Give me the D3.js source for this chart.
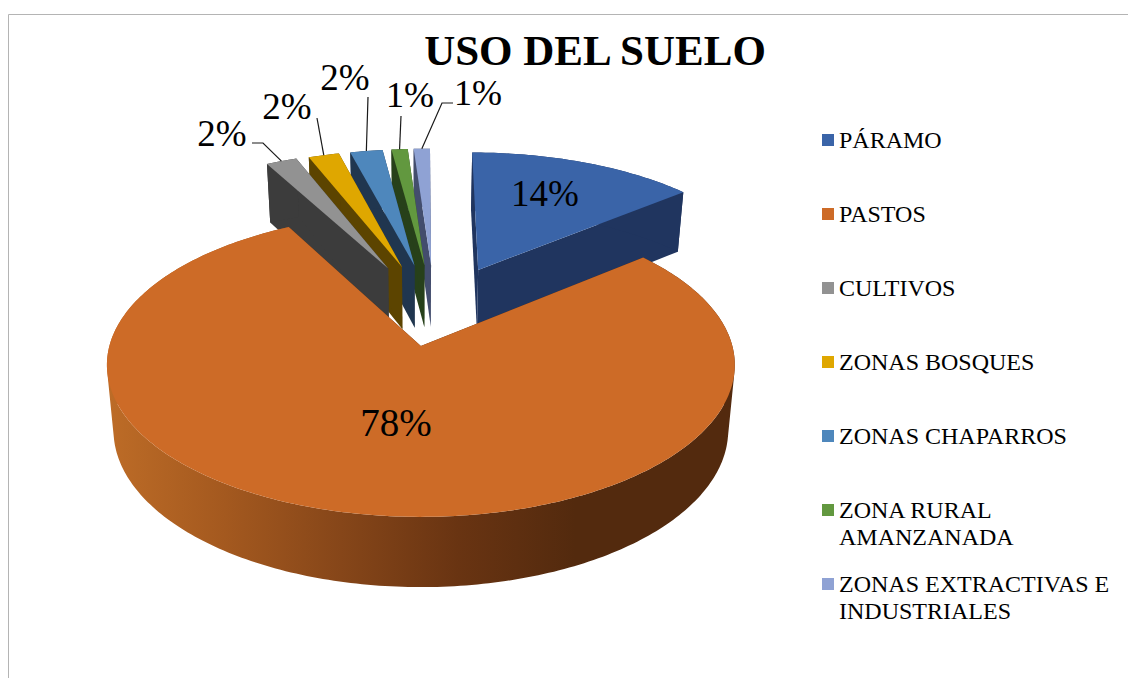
<!DOCTYPE html>
<html>
<head>
<meta charset="utf-8">
<script src="https://cdn.jsdelivr.net/npm/d3@7"></script>
<style>
html,body{margin:0;padding:0;background:#fff;}
svg{display:block;}
text{font-family:"Liberation Serif","Times New Roman",serif;fill:#000;}
</style>
</head>
<body>
<svg id="chart" width="1128" height="678"></svg>
<script>
// ---- data ----
const categories = ["PÁRAMO","PASTOS","CULTIVOS","ZONAS BOSQUES","ZONAS CHAPARROS","ZONA RURAL AMANZANADA","ZONAS EXTRACTIVAS E INDUSTRIALES"];
const values = [14.0, 78.2, 1.9, 1.9, 2.0, 1.0, 1.0];
const title = "USO DEL SUELO";

// ---- styles ----
const topColors  = ["#3a64a8","#cd6b27","#929292","#dfa700","#4e87bc","#62983f","#8fa2d4"];
const wallColors = ["#20355f","url(#orangeWall)","#3c3c3c","#5c4400","#20364f","#27401a","#434d6d"];
const explodeX = [0.352,0.24,0.38,0.364,0.364,0.364,0.364];
const explodeY = [0.285,0.29,0.295,0.295,0.295,0.295,0.295];
const drawOrder = [0,6,5,4,3,2,1];
const legendLines = [["PÁRAMO"],["PASTOS"],["CULTIVOS"],["ZONAS BOSQUES"],["ZONAS CHAPARROS"],["ZONA RURAL","AMANZANADA"],["ZONAS EXTRACTIVAS E","INDUSTRIALES"]];
const labelAnchors = [[545,206],[396,436],[222,146],[287,119],[345,90],[410,107],[478,105]];
const labelSizes = [37,39,37,37,37,36,36];
const leaderElbows = [null,null,[[252,143],[263,143]],[[317,118]],[[368,97]],[[401,116]],[[453,103],[442,103]]];

// ---- perspective projection of the pie's plane ----
const cx = 421, cy = 346, A = 311.5, B = 149.6, K = 0.125, D = 64.6, S = 0.979;
const O = [0.046, 0.285];
function project(X, Y, low) {
  const w = 1 + K * Y, s = low ? S : 1;
  return [cx + A * X / w * s, cy - B * Y / w * s + (low ? D / w : 0)];
}

const svg = d3.select("#chart");
const defs = svg.append("defs");
const grad = defs.append("linearGradient").attr("id","orangeWall")
  .attr("gradientUnits","userSpaceOnUse").attr("x1",107).attr("x2",575).attr("y1",0).attr("y2",0);
[[0,"#bd6c27"],[0.25,"#a4591f"],[0.5,"#864619"],[0.75,"#693412"],[1,"#532a0e"]].forEach(d =>
  grad.append("stop").attr("offset",d[0]).attr("stop-color",d[1]));

// frame
svg.append("path").attr("d","M8.5 678V14.5H1128").attr("fill","none").attr("stroke","#b4b4b4").attr("stroke-width",1);

const arcs = d3.pie().sort(null).value(d => d)(values);
const line = d3.line();

function geometry(a, i) {
  const mid = (a.startAngle + a.endAngle) / 2;
  const ox = O[0] + explodeX[i] * Math.sin(mid), oy = O[1] + explodeY[i] * Math.cos(mid);
  const n = Math.max(4, Math.ceil((a.endAngle - a.startAngle) * 60));
  const th = d3.range(n + 1).map(k => a.startAngle + (a.endAngle - a.startAngle) * k / n);
  const rim = low => th.map(t => project(ox + Math.sin(t), oy + Math.cos(t), low));
  return {apex: low => project(ox, oy, low), rim, mid, ox, oy};
}

const geoms = arcs.map(geometry);

drawOrder.forEach(i => {
  const g = geoms[i], top = g.rim(false), low = g.rim(true);
  const at = g.apex(false), al = g.apex(true);
  const wallFill = i === 1 ? "#532a0e" : wallColors[i];
  // radial walls
  [[top[0], low[0]], [top[top.length-1], low[low.length-1]]].forEach(e => {
    svg.append("path").attr("d", line([at, e[0], e[1], al]) + "Z").attr("fill", wallFill);
  });
  // outer curved wall: every small quad wound the same way so the whole sweep is filled
  const quads = d3.range(top.length - 1).map(k => {
    const q = [top[k], top[k+1], low[k+1], low[k]];
    return line(d3.polygonArea(q) < 0 ? q.reverse() : q) + "Z";
  }).join("");
  svg.append("path").attr("d", quads).attr("fill", wallColors[i]);
  // top face
  svg.append("path").attr("d", line([at].concat(top)) + "Z").attr("fill", topColors[i]);
});

// title
svg.append("text").attr("x",595).attr("y",64.5).attr("text-anchor","middle")
  .attr("font-size",43).attr("font-weight","bold").text(title);

// leaders
geoms.forEach((g, i) => {
  if (!leaderElbows[i]) return;
  const a = arcs[i], m = (a.startAngle + a.endAngle) / 2;
  const end = project(g.ox + Math.sin(m), g.oy + Math.cos(m), false);
  svg.append("path").attr("d", line(leaderElbows[i].concat([end])))
    .attr("fill","none").attr("stroke","#1a1a1a").attr("stroke-width",1.2);
});

// percentage labels
values.forEach((v, i) => {
  svg.append("text").attr("x",labelAnchors[i][0]).attr("y",labelAnchors[i][1])
    .attr("text-anchor","middle").attr("font-size",labelSizes[i]).text(Math.round(v) + "%");
});

// legend
const legendY = d3.scalePoint().domain(categories).range([140,584]);
categories.forEach((c, i) => {
  const y = legendY(c);
  svg.append("rect").attr("x",822).attr("y",y-6).attr("width",12).attr("height",12).attr("fill",topColors[i]);
  legendLines[i].forEach((t, k) => {
    svg.append("text").attr("x",839).attr("y",y + 8 + k*27).attr("font-size",24).text(t);
  });
});
</script>
</body>
</html>
